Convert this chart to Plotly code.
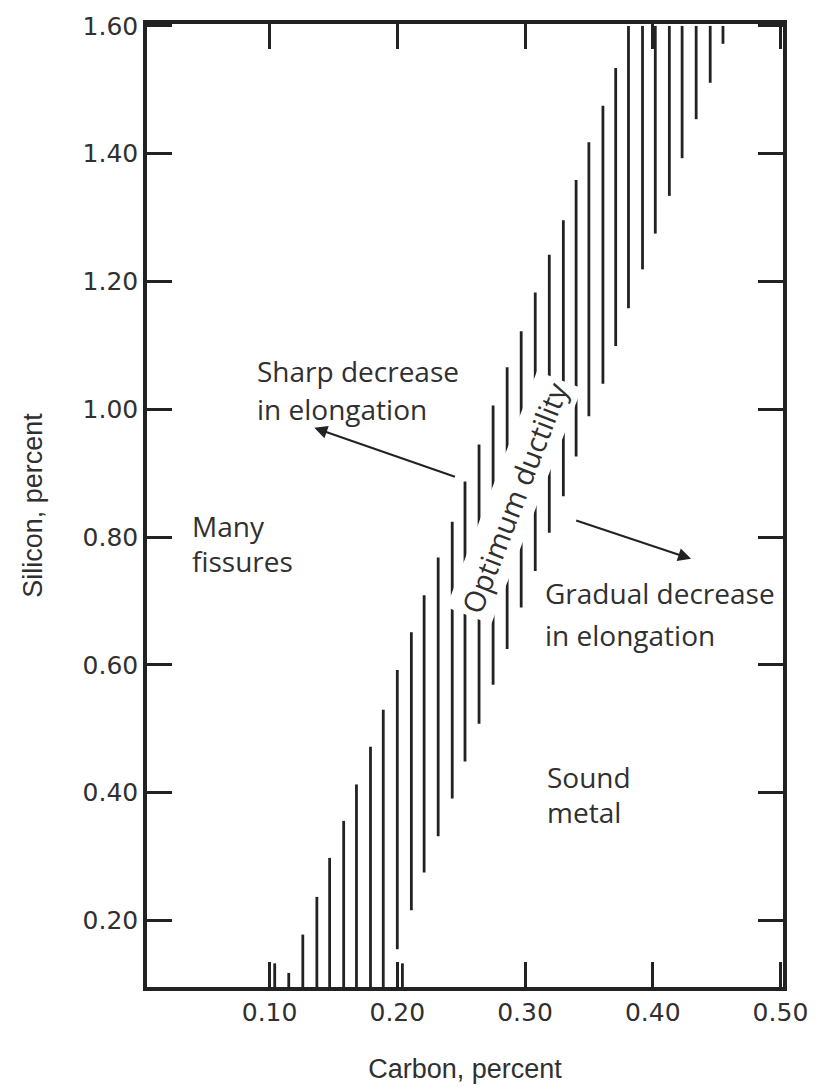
import plotly.graph_objects as go

# Hatch lines of the "optimum ductility" band (carbon %, silicon bottom %, silicon top %)
carbon = [0.104, 0.115, 0.126, 0.137, 0.147, 0.158, 0.168, 0.179, 0.189, 0.200,
          0.204, 0.211, 0.221, 0.232, 0.243, 0.253, 0.264, 0.275, 0.286, 0.297,
          0.308, 0.319, 0.330, 0.340, 0.350, 0.361, 0.371, 0.381, 0.392, 0.402,
          0.413, 0.423, 0.434, 0.445, 0.455]
si_bottom = [0.096, 0.096, 0.096, 0.096, 0.096, 0.096, 0.096, 0.096, 0.096, 0.155,
             0.096, 0.216, 0.275, 0.332, 0.391, 0.449, 0.508, 0.569, 0.625, 0.690,
             0.747, 0.807, 0.864, 0.926, 0.989, 1.040, 1.099, 1.158, 1.219, 1.275,
             1.334, 1.393, 1.454, 1.511, 1.572]
si_top = [0.133, 0.118, 0.178, 0.237, 0.298, 0.356, 0.413, 0.472, 0.530, 0.592,
          0.133, 0.651, 0.709, 0.768, 0.824, 0.887, 0.945, 1.006, 1.066, 1.122,
          1.183, 1.242, 1.296, 1.359, 1.418, 1.475, 1.534, 1.600, 1.600, 1.600,
          1.600, 1.600, 1.600, 1.600, 1.600]

x_ticks = [0.10, 0.20, 0.30, 0.40, 0.50]
x_tick_labels = ["0.10", "0.20", "0.30", "0.40", "0.50"]
y_ticks = [0.20, 0.40, 0.60, 0.80, 1.00, 1.20, 1.40, 1.60]
y_tick_labels = ["0.20", "0.40", "0.60", "0.80", "1.00", "1.20", "1.40", "1.60"]

# Region labels: (text, carbon of left edge, silicon of line centre)
region_labels = [
    ("Sharp decrease", 0.0883, 1.060),
    ("in elongation", 0.0883, 1.000),
    ("Many", 0.0377, 0.818),
    ("fissures", 0.0377, 0.762),
    ("Gradual decrease", 0.314, 0.712),
    ("in elongation", 0.314, 0.647),
    ("Sound", 0.3156, 0.425),
    ("metal", 0.3156, 0.370),
]
band_label = ("Optimum ductility", 0.2915, 0.862)
# Arrows: (head carbon, head silicon, tail carbon, tail silicon)
arrows = [
    (0.135, 0.971, 0.2463, 0.8936),
    (0.430, 0.766, 0.3389, 0.8268),
]

ink = "#222222"
txt_col = "#303030"

xs, ys = [], []
for c, b, t in zip(carbon, si_bottom, si_top):
    xs += [c, c, None]
    ys += [b, t, None]

fig = go.Figure()
fig.add_trace(go.Scatter(x=xs, y=ys, mode="lines",
                         line=dict(color=ink, width=2.8),
                         hoverinfo="skip", showlegend=False))

text_font = dict(family="Open Sans", size=28, color=txt_col)
for txt, cx, sy in region_labels:
    fig.add_annotation(x=cx, y=sy, text=txt, showarrow=False,
                       xanchor="left", yanchor="middle", font=text_font)

fig.add_annotation(x=band_label[1], y=band_label[2], text=band_label[0],
                   showarrow=False, textangle=-69, bgcolor="white",
                   borderpad=4, font=dict(family="Open Sans", size=29, color=txt_col))

for hx, hy, tx, ty in arrows:
    fig.add_annotation(x=hx, y=hy, ax=tx, ay=ty, xref="x", yref="y",
                       axref="x", ayref="y", text="", showarrow=True,
                       arrowhead=2, arrowsize=1.3, arrowwidth=2, arrowcolor=ink)

axis_common = dict(showgrid=False, zeroline=False, showline=True, linewidth=3.5,
                   linecolor=ink, mirror="ticks", ticks="inside", ticklen=25,
                   tickwidth=2.5, tickcolor=ink, automargin=False,
                   ticklabeloverflow="allow",
                   tickfont=dict(family="DejaVu Sans", size=25, color=txt_col))

fig.update_xaxes(range=[0.004, 0.502], tickvals=x_ticks, ticktext=x_tick_labels,
                 title=dict(text="Carbon, percent", standoff=34,
                            font=dict(family="Liberation Sans", size=27, color=txt_col)),
                 **axis_common)
fig.update_yaxes(range=[0.096, 1.603], tickvals=y_ticks, ticktext=y_tick_labels,
                 title=dict(text="Silicon, percent", standoff=33,
                            font=dict(family="Liberation Sans", size=27, color=txt_col)),
                 **axis_common)

fig.update_layout(width=821, height=1089, plot_bgcolor="white", paper_bgcolor="white",
                  margin=dict(l=139, r=46, t=16, b=110), showlegend=False)

fig.write_html("out.html")
